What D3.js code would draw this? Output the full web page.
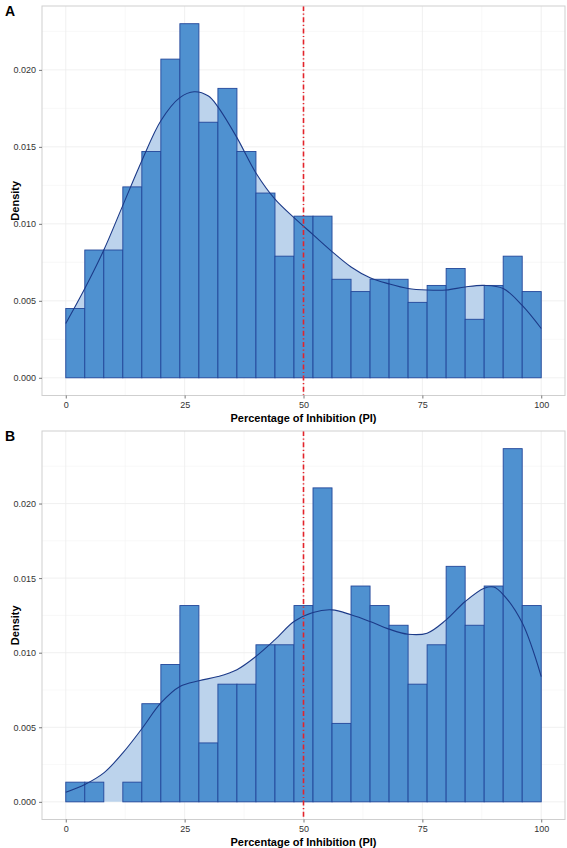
<!DOCTYPE html>
<html>
<head>
<meta charset="utf-8">
<script src="https://cdn.jsdelivr.net/npm/d3@7"></script>
<style>
  html, body { margin: 0; padding: 0; background: #ffffff; }
  svg { display: block; font-family: "Liberation Sans", Arial, Helvetica, sans-serif; }
</style>
</head>
<body>
<svg id="chart" width="567" height="848"></svg>
<script>
// ---------- DATA ----------
const binEdges = d3.range(0, 101, 4);            // 0,4,...,100 (bin width 4)
const xTicks = [0, 25, 50, 75, 100];
const xTickLabels = ["0", "25", "50", "75", "100"];
const yTicks = [0, 0.005, 0.010, 0.015, 0.020];
const yTickLabels = ["0.000", "0.005", "0.010", "0.015", "0.020"];
const cutoff = 50;

// Panel A histogram densities (25 bins)
const densityA = [0.0045, 0.0083, 0.0083, 0.0124, 0.0147, 0.0207, 0.0230, 0.0166, 0.0188, 0.0147,
                  0.0120, 0.0079, 0.0105, 0.0105, 0.0064, 0.0056, 0.0064, 0.0064, 0.0049, 0.0060,
                  0.0071, 0.0038, 0.0060, 0.0079, 0.0056];
// Panel A kernel density curve
const curveXA = [0, 4, 8, 12, 16, 20, 24, 27, 30, 32, 36, 40, 44, 48, 52, 56, 60, 64, 68, 72, 76, 80, 84, 88, 92, 96, 100];
const curveYA = [0.00353, 0.0058, 0.0083, 0.0112, 0.0141, 0.0167, 0.0182, 0.01858, 0.0183, 0.0176, 0.0156, 0.0133, 0.0116,
                 0.0104, 0.0093, 0.0082, 0.0072, 0.0065, 0.0061, 0.0058, 0.0057, 0.0057, 0.0059, 0.0060, 0.0058,
                 0.0047, 0.0032];

// Panel B histogram densities (25 bins)
const densityB = [0.00132, 0.00132, 0, 0.00132, 0.00658, 0.00921, 0.01316, 0.00395, 0.00789, 0.00789,
                  0.01053, 0.01053, 0.01316, 0.02105, 0.00526, 0.01447, 0.01316, 0.01184, 0.00789, 0.01053,
                  0.01579, 0.01184, 0.01447, 0.02368, 0.01316];
// Panel B kernel density curve
const curveXB = [0, 4, 8, 12, 16, 20, 24, 28, 32, 36, 40, 44, 48, 52, 56, 60, 64, 68, 72, 76, 80, 84, 88, 90, 92, 96, 100];
const curveYB = [0.00064, 0.00116, 0.00194, 0.00328, 0.0049, 0.00663, 0.00774, 0.00812, 0.0084, 0.00886, 0.00975,
                 0.01087, 0.01209, 0.0127, 0.01287, 0.01254, 0.01209, 0.01158, 0.01124, 0.01131, 0.0122,
                 0.01343, 0.01432, 0.0144, 0.0139, 0.0120, 0.0084];

// ---------- STYLE ----------
const barFill = "#4f91d0";
const barStroke = "#23479a";
const areaFill = "#bcd3ec";
const lineColor = "#1c3a88";
const refColor = "#e3242b";

const svg = d3.select("#chart");

function drawPanel(opts) {
  const { top, bottom, left, right, dens, cx, cy, label } = opts;
  const x = d3.scaleLinear().domain([-5, 105]).range([left, right]);
  const ymax = Math.max(d3.max(dens), d3.max(cy));
  const pad = ymax * 0.05;
  const y = d3.scaleLinear().domain([-pad, ymax + pad]).range([bottom, top]);

  const g = svg.append("g");

  // clip
  const clipId = "clip" + label;
  svg.append("defs").append("clipPath").attr("id", clipId)
    .append("rect").attr("x", left).attr("y", top).attr("width", right - left).attr("height", bottom - top);

  // minor grid
  const xMinor = [12.5, 37.5, 62.5, 87.5];
  const yMinor = d3.range(0.0025, ymax + pad, 0.005);
  g.selectAll(".xminor").data(xMinor).join("line")
    .attr("x1", d => x(d)).attr("x2", d => x(d)).attr("y1", top).attr("y2", bottom)
    .attr("stroke", "#f4f4f4").attr("stroke-width", 0.6);
  g.selectAll(".yminor").data(yMinor).join("line")
    .attr("x1", left).attr("x2", right).attr("y1", d => y(d)).attr("y2", d => y(d))
    .attr("stroke", "#f4f4f4").attr("stroke-width", 0.6);
  // major grid
  g.selectAll(".xmajor").data(xTicks).join("line")
    .attr("x1", d => x(d)).attr("x2", d => x(d)).attr("y1", top).attr("y2", bottom)
    .attr("stroke", "#ececec").attr("stroke-width", 0.8);
  g.selectAll(".ymajor").data(yTicks).join("line")
    .attr("x1", left).attr("x2", right).attr("y1", d => y(d)).attr("y2", d => y(d))
    .attr("stroke", "#ececec").attr("stroke-width", 0.8);

  const pts = cx.map((v, i) => [v, cy[i]]);
  const inner = g.append("g").attr("clip-path", `url(#${clipId})`);

  // density area
  inner.append("path").datum(pts)
    .attr("d", d3.area().x(d => x(d[0])).y0(y(0)).y1(d => y(d[1])).curve(d3.curveCatmullRom.alpha(0.5)))
    .attr("fill", areaFill);

  // bars
  inner.selectAll(".bar").data(dens).join("rect")
    .attr("x", (d, i) => x(binEdges[i]))
    .attr("width", (d, i) => x(binEdges[i + 1]) - x(binEdges[i]))
    .attr("y", d => y(d))
    .attr("height", d => y(0) - y(d))
    .attr("fill", barFill)
    .attr("stroke", barStroke)
    .attr("stroke-width", 0.9);

  // density line
  inner.append("path").datum(pts)
    .attr("d", d3.line().x(d => x(d[0])).y(d => y(d[1])).curve(d3.curveCatmullRom.alpha(0.5)))
    .attr("fill", "none").attr("stroke", lineColor).attr("stroke-width", 1.1);

  // reference line
  inner.append("line")
    .attr("x1", x(cutoff)).attr("x2", x(cutoff)).attr("y1", top).attr("y2", bottom)
    .attr("stroke", refColor).attr("stroke-width", 1.6)
    .attr("stroke-dasharray", "5,2.5,1.2,2.5");

  // panel border
  g.append("rect").attr("x", left).attr("y", top).attr("width", right - left).attr("height", bottom - top)
    .attr("fill", "none").attr("stroke", "#cfcfcf").attr("stroke-width", 1);

  // axes
  const xAxis = g.append("g").attr("transform", `translate(0,${bottom})`)
    .call(d3.axisBottom(x).tickValues(xTicks).tickFormat((d, i) => xTickLabels[i]).tickSize(3).tickPadding(3));
  const yAxis = g.append("g").attr("transform", `translate(${left},0)`)
    .call(d3.axisLeft(y).tickValues(yTicks).tickFormat((d, i) => yTickLabels[i]).tickSize(3).tickPadding(3));
  [xAxis, yAxis].forEach(a => {
    a.select(".domain").remove();
    a.selectAll(".tick line").attr("stroke", "#555").attr("stroke-width", 0.8);
    a.selectAll(".tick text").attr("fill", "#333").style("font-size", "9px")
      .style("font-family", "'Liberation Sans', Arial, sans-serif");
  });

  // titles
  g.append("text").attr("x", (x(0) + x(100)) / 2).attr("y", bottom + 26)
    .attr("text-anchor", "middle").attr("font-weight", "bold").attr("font-size", "11px").attr("fill", "#000")
    .text("Percentage of Inhibition (PI)");
  g.append("text").attr("transform", `translate(19,${(top + bottom) / 2}) rotate(-90)`)
    .attr("text-anchor", "middle").attr("font-weight", "bold").attr("font-size", "11px").attr("fill", "#000")
    .text("Density");
  g.append("text").attr("x", 5).attr("y", top + 10)
    .attr("font-weight", "bold").attr("font-size", "14px").attr("fill", "#000")
    .text(label);
}

drawPanel({ top: 6, bottom: 395.5, left: 42, right: 565, dens: densityA, cx: curveXA, cy: curveYA, label: "A" });
drawPanel({ top: 431, bottom: 819.5, left: 42, right: 565, dens: densityB, cx: curveXB, cy: curveYB, label: "B" });
</script>
</body>
</html>
